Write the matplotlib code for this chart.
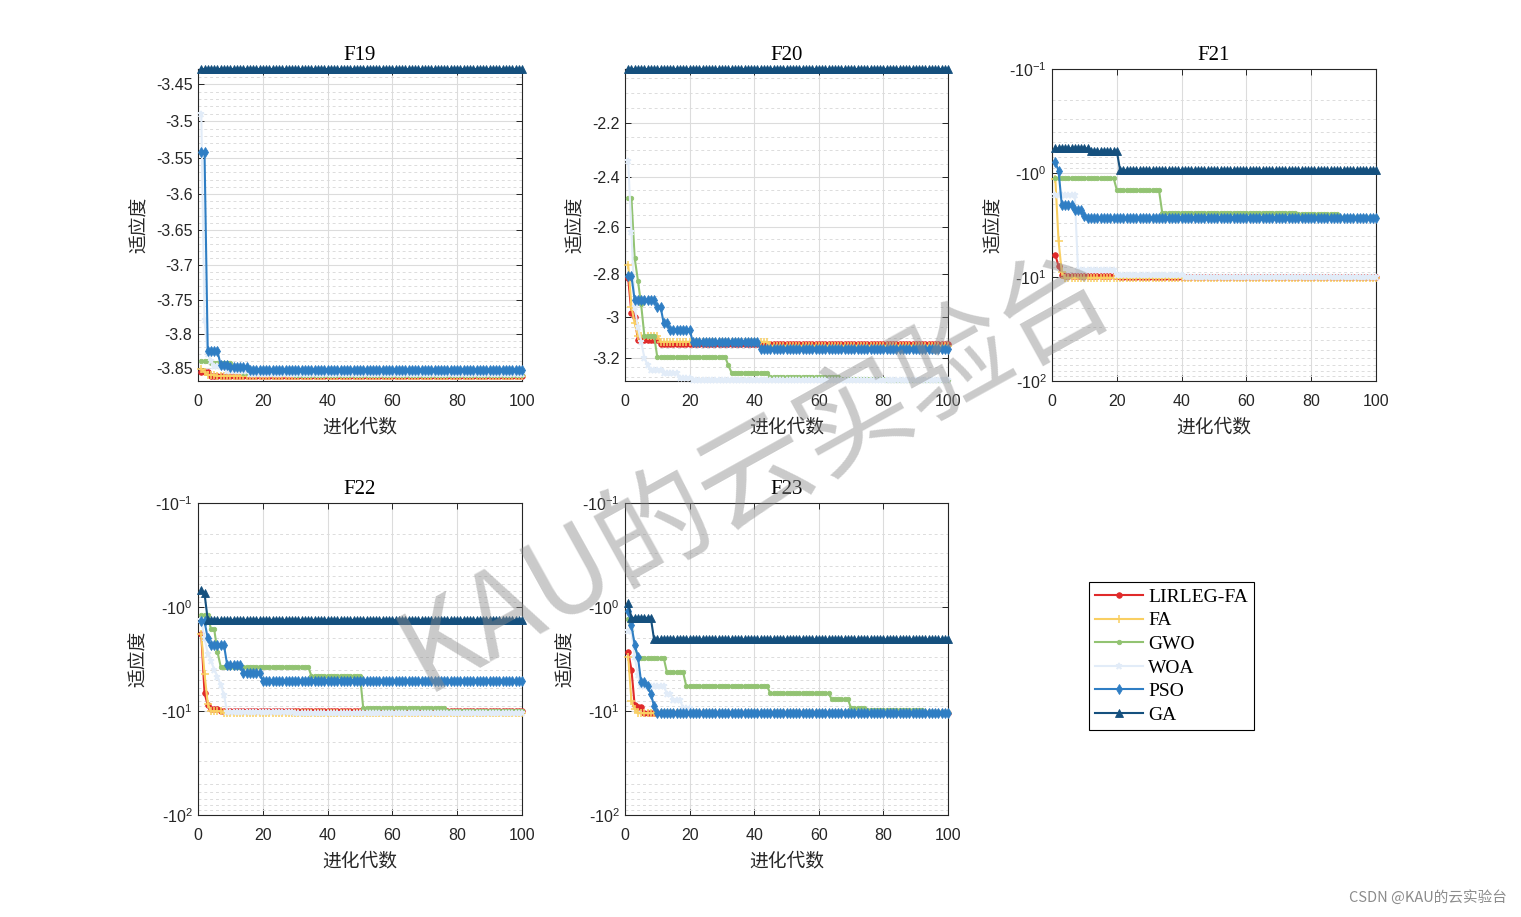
import numpy as np
import matplotlib
matplotlib.use('Agg')
import matplotlib.pyplot as plt
from matplotlib.ticker import NullFormatter

plt.rcParams['font.family'] = ['Liberation Sans', 'DejaVu Sans']
plt.rcParams['mathtext.default'] = 'regular'

# ---------------- data ----------------
n_iter = 100
iterations = np.arange(1, n_iter + 1)
algorithms = ['LIRLEG-FA', 'FA', 'GWO', 'WOA', 'PSO', 'GA']
function_names = ['F19', 'F20', 'F21', 'F22', 'F23']

# best-so-far fitness, as (first iteration, value) change points of each step curve
f19_lirleg_fa = [(1, -3.857), (4, -3.8625)]
f19_fa = [(1, -3.852), (2, -3.857), (3, -3.861), (6, -3.8624)]
f19_gwo = [(1, -3.840), (4, -3.843), (11, -3.850), (14, -3.858), (30, -3.8615)]
f19_woa = [(1, -3.49), (2, -3.78), (3, -3.83), (4, -3.84), (5, -3.848), (9, -3.855), (16, -3.8595)]
f19_pso = [(1, -3.542), (3, -3.826), (7, -3.846), (10, -3.849), (16, -3.853)]
f19_ga = [(1, -3.4303)]

f20_lirleg_fa = [(1, -2.82), (2, -2.98), (3, -3.00), (4, -3.11), (11, -3.13)]
f20_fa = [(1, -2.76), (2, -2.95), (3, -3.03), (4, -3.09), (11, -3.12), (45, -3.14)]
f20_gwo = [(1, -2.48), (3, -2.73), (4, -2.83), (5, -2.94), (6, -3.09), (10, -3.197), (32, -3.24),
           (33, -3.278), (45, -3.30), (67, -3.31), (81, -3.318)]
f20_woa = [(1, -2.34), (2, -2.62), (3, -2.95), (4, -3.05), (5, -3.12), (6, -3.20), (7, -3.24),
           (8, -3.265), (12, -3.28), (17, -3.305), (21, -3.318)]
f20_pso = [(1, -2.81), (3, -2.92), (10, -2.95), (12, -3.03), (14, -3.06), (21, -3.12), (42, -3.155)]
f20_ga = [(1, -2.02)]

f21_lirleg_fa = [(1, -6.1), (2, -7.9), (3, -9.5), (4, -9.8), (21, -10.0)]
f21_fa = [(1, -1.13), (2, -4.5), (3, -9.0), (4, -10.15)]
f21_gwo = [(1, -1.12), (20, -1.46), (34, -2.41), (76, -2.5), (89, -2.65)]
f21_woa = [(1, -1.63), (8, -8.5), (20, -9.6), (41, -10.1)]
f21_pso = [(1, -0.79), (2, -0.95), (3, -2.03), (7, -2.27), (10, -2.6), (11, -2.73)]
f21_ga = [(1, -0.58), (12, -0.62), (21, -0.94)]

f22_lirleg_fa = [(1, -1.82), (2, -6.7), (3, -8.8), (4, -9.5), (7, -10.1)]
f22_fa = [(1, -1.82), (2, -4.4), (3, -8.5), (4, -10.1), (8, -10.40)]
f22_gwo = [(1, -1.19), (4, -1.64), (6, -2.7), (7, -3.75), (35, -4.6), (51, -9.4), (77, -9.9)]
f22_woa = [(1, -1.33), (2, -2.0), (3, -2.8), (4, -3.3), (5, -4.0), (6, -4.7), (7, -5.6), (8, -7.0),
           (9, -10.2), (30, -10.35)]
f22_pso = [(1, -1.37), (3, -2.0), (4, -2.32), (9, -3.6), (14, -4.35), (20, -5.1)]
f22_ga = [(1, -0.69), (2, -0.74), (3, -1.33)]

f23_lirleg_fa = [(1, -2.69), (2, -4.0), (3, -8.8), (4, -9.2), (6, -10.5)]
f23_fa = [(1, -3.0), (2, -8.0), (3, -9.6), (4, -10.5)]
f23_gwo = [(1, -1.3), (2, -1.66), (3, -2.3), (4, -3.1), (13, -4.25), (19, -5.8), (45, -6.75),
           (64, -7.7), (70, -9.4), (75, -9.85), (93, -10.3)]
f23_woa = [(1, -1.7), (3, -3.0), (4, -4.5), (5, -5.8), (13, -6.8), (15, -7.8), (18, -9.4), (21, -10.4)]
f23_pso = [(1, -1.08), (2, -1.5), (3, -2.3), (4, -3.0), (5, -5.3), (7, -5.8), (8, -6.8), (9, -9.0),
           (10, -10.5)]
f23_ga = [(1, -0.92), (2, -1.27), (9, -2.05)]

panel_series = [
    [f19_lirleg_fa, f19_fa, f19_gwo, f19_woa, f19_pso, f19_ga],
    [f20_lirleg_fa, f20_fa, f20_gwo, f20_woa, f20_pso, f20_ga],
    [f21_lirleg_fa, f21_fa, f21_gwo, f21_woa, f21_pso, f21_ga],
    [f22_lirleg_fa, f22_fa, f22_gwo, f22_woa, f22_pso, f22_ga],
    [f23_lirleg_fa, f23_fa, f23_gwo, f23_woa, f23_pso, f23_ga],
]

# y-axis limits (fitness) and tick labels
f19_ylim = (-3.8628, -3.4303)
f19_yticks = [-3.45, -3.5, -3.55, -3.6, -3.65, -3.7, -3.75, -3.8, -3.85]
f19_ylabels = ['-3.45', '-3.5', '-3.55', '-3.6', '-3.65', '-3.7', '-3.75', '-3.8', '-3.85']
f20_ylim = (-3.3217, -2.02)
f20_yticks = [-2.2, -2.4, -2.6, -2.8, -3.0, -3.2]
f20_ylabels = ['-2.2', '-2.4', '-2.6', '-2.8', '-3', '-3.2']
log_ylim = (-100, -0.1)
log_yticks = [-0.1, -1, -10, -100]
log_ylabels = ['-10$^{-1}$', '-10$^{0}$', '-10$^{1}$', '-10$^{2}$']
xticks = [0, 20, 40, 60, 80, 100]

colors = ['#E02A2A', '#F9CF62', '#92C372', '#E2ECF8', '#2F7EC4', '#15507E']
markers = ['o', '+', 'o', '*', 'd', '^']
msizes = [4, 5.5, 3.2, 4.5, 5, 5.5]


def step_curve(points):
    vals = np.empty(n_iter)
    for start, v in points:
        vals[start - 1:] = v
    return vals


fig = plt.figure(figsize=(15.21, 9.17), dpi=100)
positions = [(0.1302, 0.5845, 0.2130, 0.3402), (0.4109, 0.5845, 0.2124, 0.3402),
             (0.6917, 0.5845, 0.2130, 0.3402), (0.1302, 0.1112, 0.2130, 0.3402),
             (0.4109, 0.1112, 0.2124, 0.3402)]

grid_col = '#DCDCDC'
axis_col = '#262626'
handles = []
for p, (name, series) in enumerate(zip(function_names, panel_series)):
    ax = fig.add_axes(positions[p])
    ax.set_yscale('log')
    hs = []
    for i, pts in enumerate(series):
        y = -step_curve(pts)
        h, = ax.plot(iterations, y, color=colors[i], marker=markers[i], ms=msizes[i],
                     mew=1.1 if markers[i] in '+*' else 0.6, mec=colors[i], mfc=colors[i],
                     lw=1.5, label=algorithms[i], clip_on=False, zorder=3 + i)
        hs.append(h)
    handles = hs
    if p == 0:
        lo, hi = f19_ylim
        ax.set_ylim(-lo, -hi)
        ax.set_yticks([-t for t in f19_yticks], f19_ylabels)
        minors = [m for m in np.round(np.arange(3.43, 3.8701, 0.01), 3)
                  if not any(abs(m + t) < 1e-6 for t in f19_yticks)]
        ax.set_yticks(minors, minor=True)
    elif p == 1:
        lo, hi = f20_ylim
        ax.set_ylim(-lo, -hi)
        ax.set_yticks([-t for t in f20_yticks], f20_ylabels)
        minors = [m for m in np.round(np.arange(2.05, 3.3201, 0.05), 3)
                  if not any(abs(m + t) < 1e-6 for t in f20_yticks)]
        ax.set_yticks(minors, minor=True)
    else:
        lo, hi = log_ylim
        ax.set_ylim(-lo, -hi)
        ax.set_yticks([-t for t in log_yticks], log_ylabels)
        minors = [k * 10.0 ** e for e in (-1, 0, 1) for k in range(2, 10)]
        ax.set_yticks(minors, minor=True)
    ax.yaxis.set_minor_formatter(NullFormatter())
    ax.set_xlim(0, 100)
    ax.set_xticks(xticks)
    ax.set_axisbelow(True)
    ax.grid(True, which='major', axis='both', color=grid_col, lw=0.8)
    ax.grid(True, which='minor', axis='y', color=grid_col, lw=0.7, ls=(0, (3, 3)))
    ax.tick_params(which='major', direction='in', length=4, width=0.7, top=True, right=True,
                   labelsize=11.5, colors=axis_col)
    ax.tick_params(axis='y', which='major', pad=4)
    ax.tick_params(axis='x', which='major', pad=9)
    ax.tick_params(which='minor', length=0)
    for s in ax.spines.values():
        s.set_color(axis_col)
        s.set_linewidth(0.8)
    ax.set_title(name, fontsize=15, family=['Liberation Serif'], color='black', pad=6.5)
    ax.set_xlabel('进化代数', fontsize=13.5, family=['Noto Sans CJK SC'], color=axis_col, labelpad=5.5)
    ax.set_ylabel('适应度', fontsize=13.5, family=['Noto Sans CJK SC'], color=axis_col, labelpad=4)

leg = fig.legend(handles, algorithms, loc='upper left', bbox_to_anchor=(0.716, 0.365),
                 frameon=True, fancybox=False, edgecolor='black', framealpha=1,
                 prop={'family': 'Liberation Serif', 'size': 14}, handlelength=2.5,
                 handletextpad=0.25, labelspacing=0.31, borderpad=0.3, borderaxespad=0)
leg.get_frame().set_linewidth(0.8)

fig.text(0.497, 0.487, 'KAU的云实验台', rotation=29, fontsize=82, color='#8A8A8A', alpha=0.45,
         ha='center', va='center', family=['Noto Sans CJK SC'], zorder=100)
fig.text(0.991, 0.021, 'CSDN @KAU的云实验台', ha='right', va='center', fontsize=10.5,
         color='#8C8C8C', family=['Noto Sans CJK SC', 'DejaVu Sans'])

fig.savefig('out.png', dpi=100)
